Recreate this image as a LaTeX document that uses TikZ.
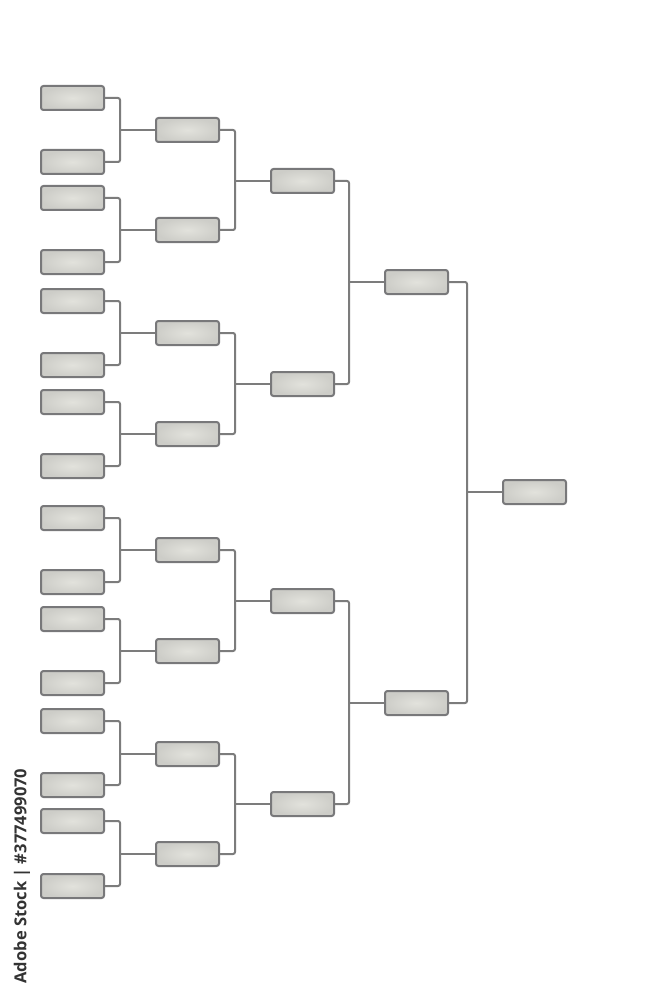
\documentclass[tikz,border=0pt]{standalone}
\usepackage{fontspec}
\newfontfamily\wmfont{Open Sans}
\begin{document}
\begin{tikzpicture}[x=1pt,y=-1pt,
  slot/.style={draw=boxline, line width=2pt, rounded corners=2.5pt,
    inner color=boxin, outer color=boxout,
    minimum width=63pt, minimum height=24pt, inner sep=0pt},
  conn/.style={draw=linecol, line width=2pt, rounded corners=2pt}]
\definecolor{boxline}{HTML}{78787A}
\definecolor{boxin}{HTML}{E2E2DC}
\definecolor{boxout}{HTML}{CDCDC8}
\definecolor{linecol}{HTML}{7C7C7C}
\useasboundingbox[fill=white] (0,0) rectangle (668,1000);
% round 1
\foreach \i/\y in {1/98,2/162,3/198,4/262,5/301,6/365,7/402,8/466,9/518,10/582,11/619,12/683,13/721,14/785,15/821,16/886}
  \node[slot] (a\i) at (72.5,\y) {};
% round 2
\foreach \i/\y in {1/130,2/230,3/333,4/434,5/550,6/651,7/754,8/854}
  \node[slot] (b\i) at (187.5,\y) {};
% round 3
\foreach \i/\y in {1/181,2/384,3/601,4/804}
  \node[slot] (c\i) at (302.5,\y) {};
% round 4
\node[slot] (d1) at (416.5,282) {};
\node[slot] (d2) at (416.5,703) {};
% final
\node[slot] (e1) at (534.5,492) {};
% connectors round 1 -> 2
\foreach \j in {1,...,8}{
  \pgfmathtruncatemacro{\p}{2*\j-1}
  \pgfmathtruncatemacro{\q}{2*\j}
  \draw[conn] (a\p.east) -- ++(15,0) coordinate (v) |- (a\q.east);
  \draw[conn] (b\j.west) -- (b\j.west -| v);
}
% round 2 -> 3
\foreach \j in {1,...,4}{
  \pgfmathtruncatemacro{\p}{2*\j-1}
  \pgfmathtruncatemacro{\q}{2*\j}
  \draw[conn] (b\p.east) -- ++(15,0) coordinate (v) |- (b\q.east);
  \draw[conn] (c\j.west) -- (c\j.west -| v);
}
% round 3 -> 4
\foreach \j in {1,2}{
  \pgfmathtruncatemacro{\p}{2*\j-1}
  \pgfmathtruncatemacro{\q}{2*\j}
  \draw[conn] (c\p.east) -- ++(14,0) coordinate (v) |- (c\q.east);
  \draw[conn] (d\j.west) -- (d\j.west -| v);
}
% round 4 -> final
\draw[conn] (d1.east) -- ++(18,0) coordinate (v) |- (d2.east);
\draw[conn] (e1.west) -- (e1.west -| v);
% side label
\node[rotate=90, text=black!80, font=\wmfont\bfseries\fontsize{16.5}{16.5}\selectfont, inner sep=0pt] (wm) at (22,876) {Adobe Stock | \#377499070};
\end{tikzpicture}
\end{document}
